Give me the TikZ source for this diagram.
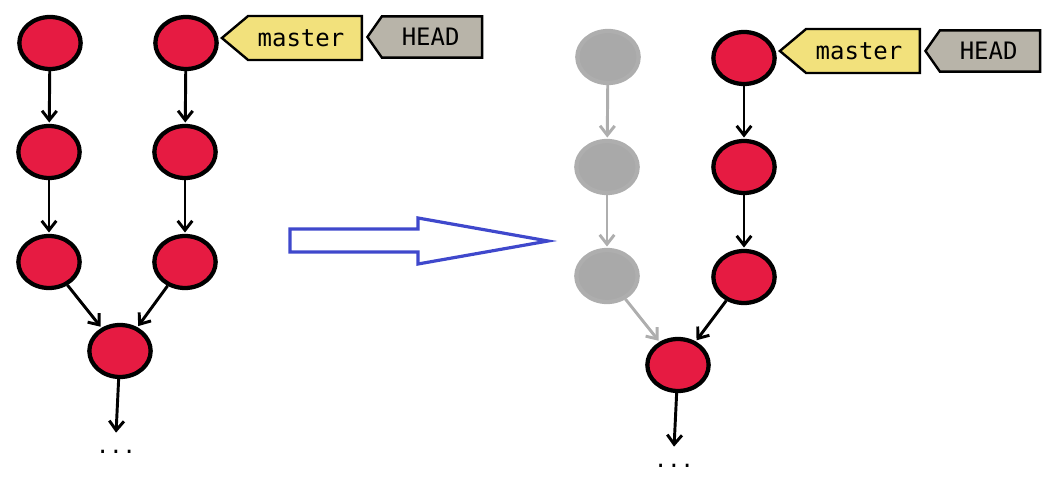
\documentclass[tikz,border=0pt]{standalone}
\usepackage{fontspec}
\setmonofont{DejaVu Sans Mono}
\usetikzlibrary{arrows.meta,shapes.symbols,shapes.geometric}
\definecolor{commitred}{HTML}{E61B42}
\definecolor{ghostfill}{HTML}{A9A9A9}
\definecolor{ghostline}{HTML}{AEAEAE}
\definecolor{tagyellow}{HTML}{F2E17C}
\definecolor{headgray}{HTML}{B8B4A9}
\definecolor{bigarrow}{HTML}{3F48CC}
\tikzset{
  commit/.style={ellipse, minimum width=46pt, minimum height=39pt, inner sep=0pt,
    fill=commitred, draw=black, line width=3.2pt},
  ghost/.style={commit, fill=ghostfill, draw=ghostline},
  link/.style={-{Straight Barb[length=7pt,width=11pt]}, line width=2.2pt, shorten >=1pt},
  ghostlink/.style={link, draw=ghostline},
  tagbase/.style={signal, signal to=west, draw=black, line width=1.8pt,
    font=\ttfamily\fontsize{18}{18}\selectfont, inner sep=0pt},
  mastertag/.style={tagbase, fill=tagyellow, signal pointer angle=80, minimum width=105pt, minimum height=33pt},
  headtag/.style={tagbase, fill=headgray, signal pointer angle=110, minimum width=86pt, minimum height=31pt},
  dots/.style={font=\ttfamily\fontsize{16.5}{16.5}\selectfont, inner sep=0pt}
}
\begin{document}
\begin{tikzpicture}[x=0.75pt,y=-0.75pt]
\useasboundingbox (0,0) rectangle (1054,477);
% left diagram
\node[commit] (a1) at (50,43) {};
\node[commit] (a2) at (49,152) {};
\node[commit] (a3) at (49,262) {};
\node[commit] (b1) at (186,43) {};
\node[commit] (b2) at (185,152) {};
\node[commit] (b3) at (185,262) {};
\node[commit] (m) at (120,351) {};
\coordinate (mend) at (116,434);
\node[dots] (mdots) at (116,452) {...};
\node[mastertag] (master1) at (305,38) {\hspace*{-6pt}master};
\node[headtag] (head1) at (432,37) {\hspace*{-2pt}HEAD};
\draw[link] (a1) -- (a2);
\draw[link] (a2) -- (a3);
\draw[link] (b1) -- (b2);
\draw[link] (b2) -- (b3);
\draw[link] (a3) -- (m);
\draw[link] (b3) -- (m);
\draw[link] (m) -- (mend);
% big arrow
\draw[bigarrow, line width=2.4pt, line join=miter]
  (290,229) -- (418,229) -- (418,218) -- (548,241) -- (418,264) -- (418,252) -- (290,252) -- cycle;
% right diagram
\node[ghost] (g1) at (608,57) {};
\node[ghost] (g2) at (607,167) {};
\node[ghost] (g3) at (607,276) {};
\node[commit] (c1) at (744,58) {};
\node[commit] (c2) at (744,167) {};
\node[commit] (c3) at (744,277) {};
\node[commit] (n) at (678,365) {};
\coordinate (nend) at (674,448);
\node[dots] (ndots) at (674,466) {...};
\node[mastertag] (master2) at (863,51) {\hspace*{-6pt}master};
\node[headtag] (head2) at (990,51) {\hspace*{-2pt}HEAD};
\draw[ghostlink] (g1) -- (g2);
\draw[ghostlink] (g2) -- (g3);
\draw[ghostlink] (g3) -- (n);
\draw[link] (c1) -- (c2);
\draw[link] (c2) -- (c3);
\draw[link] (c3) -- (n);
\draw[link] (n) -- (nend);
\end{tikzpicture}
\end{document}
